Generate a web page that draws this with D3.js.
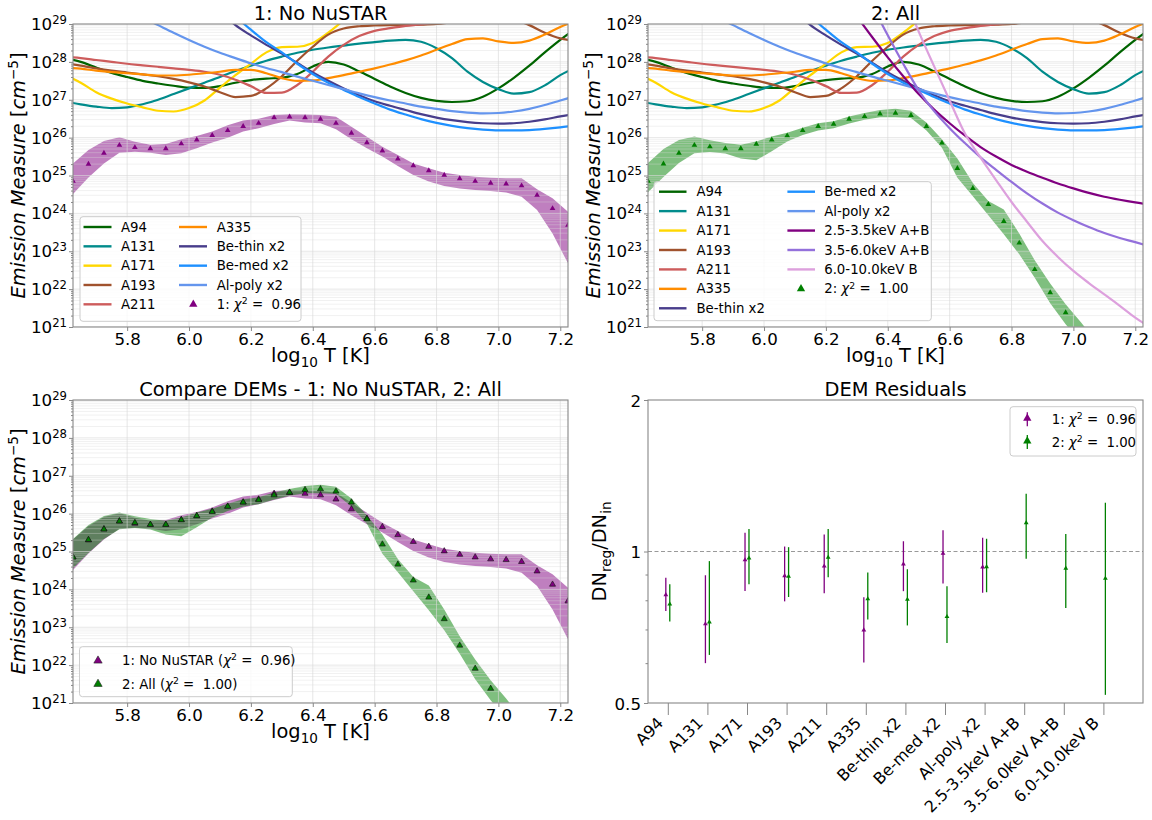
<!DOCTYPE html>
<html>
<head>
<meta charset="utf-8">
<script src="https://cdn.jsdelivr.net/npm/d3@7"></script>
<style>
  html,body{margin:0;padding:0;background:#fff;}
  svg{display:block;font-family:"DejaVu Sans",Verdana,sans-serif;}
  text{white-space:pre;}
</style>
</head>
<body>
<svg id="chart" width="1152" height="820"></svg>
<script>
// ================= DATA =================
// DEM temperature bins (log10 T)
const demT = [5.625,5.675,5.725,5.775,5.825,5.875,5.925,5.975,6.025,6.075,6.125,6.175,6.225,6.275,6.325,6.375,6.425,6.475,6.525,6.575,6.625,6.675,6.725,6.775,6.825,6.875,6.925,6.975,7.025,7.075,7.125,7.175,7.225];
// DEM 1: No NuSTAR  (log10 EM)
const dem1   = [24.85,25.30,25.59,25.80,25.74,25.71,25.71,25.84,25.94,26.06,26.19,26.30,26.38,26.53,26.55,26.53,26.49,26.38,26.12,25.87,25.65,25.44,25.26,25.13,25.01,24.92,24.85,24.80,24.78,24.73,24.48,24.13,23.69];
const dem1Hi = [25.32,25.67,25.91,26.01,25.89,25.81,25.83,25.96,26.04,26.16,26.33,26.45,26.50,26.60,26.62,26.61,26.60,26.55,26.29,26.02,25.76,25.54,25.32,25.19,25.07,25.01,24.97,24.94,24.93,24.93,24.64,24.40,24.04];
const dem1Lo = [24.51,24.95,25.32,25.60,25.63,25.60,25.54,25.59,25.72,25.87,26.00,26.16,26.25,26.36,26.45,26.40,26.38,26.22,25.96,25.72,25.50,25.25,25.01,24.84,24.72,24.66,24.62,24.59,24.55,24.44,24.09,23.47,22.68];
// DEM 2: All
const dem2   = [24.85,25.31,25.59,25.80,25.76,25.71,25.71,25.83,25.94,26.05,26.19,26.30,26.36,26.49,26.56,26.63,26.65,26.59,26.30,25.86,25.19,24.66,24.24,23.79,23.22,22.52,21.91,21.38,20.90,20.40,19.90,19.40,18.90];
const dem2Hi = [25.33,25.70,25.94,26.03,25.93,25.86,25.81,25.90,26.03,26.13,26.26,26.38,26.43,26.56,26.65,26.73,26.76,26.71,26.40,25.96,25.45,24.80,24.33,24.10,23.47,22.76,22.15,21.60,21.12,20.60,20.10,19.60,19.10];
const dem2Lo = [24.56,24.96,25.33,25.59,25.62,25.58,25.45,25.40,25.64,25.90,26.07,26.19,26.25,26.37,26.47,26.54,26.54,26.52,26.19,25.73,24.94,24.45,23.95,23.45,22.92,22.30,21.63,21.07,20.60,20.10,19.60,19.10,18.60];
const chi1 = "0.96", chi2 = "1.00";

// EM loci curves (log10 EM) sampled on curveT
const curveT = [5.60,5.65,5.70,5.75,5.80,5.85,5.90,5.95,6.00,6.05,6.10,6.15,6.20,6.25,6.30,6.35,6.40,6.45,6.50,6.55,6.60,6.65,6.70,6.75,6.80,6.85,6.90,6.95,7.00,7.05,7.10,7.15,7.20,7.25];
const N = null;
const emA94  = [28.1,28.0,27.85,27.71,27.6,27.5,27.43,27.37,27.32,27.31,27.36,27.45,27.52,27.56,27.58,27.68,27.88,28.0,27.93,27.75,27.55,27.35,27.18,27.05,26.97,26.94,26.96,27.08,27.3,27.58,27.9,28.25,28.58,28.88];
const emA131 = [26.95,26.88,26.82,26.78,26.8,26.88,27.0,27.15,27.3,27.45,27.6,27.76,27.9,28.03,28.14,28.24,28.32,28.38,28.43,28.48,28.52,28.56,28.58,28.53,28.36,28.1,27.74,27.47,27.28,27.16,27.2,27.38,27.65,27.85];
const emA171 = [27.65,27.45,27.2,27.03,26.9,26.8,26.71,26.69,26.78,26.98,27.32,27.65,27.95,28.25,28.39,28.4,28.5,28.77,29.1,29.45,29.8,N,N,N,N,N,N,N,N,N,N,N,N,N];
const emA193 = [27.97,27.9,27.83,27.77,27.72,27.67,27.62,27.55,27.46,27.35,27.2,27.07,27.1,27.3,27.62,28.03,28.4,28.72,28.88,28.94,28.96,28.97,28.97,28.98,29.0,29.05,29.12,29.18,29.2,29.12,28.97,28.77,28.62,28.55];
const emA211 = [28.13,28.1,28.05,28.0,27.95,27.91,27.87,27.83,27.79,27.74,27.66,27.53,27.36,27.18,27.19,27.39,27.74,28.14,28.45,28.68,28.82,28.89,28.95,28.99,29.05,29.1,29.15,29.2,29.25,29.3,29.35,29.4,29.4,29.4];
const emA335 = [27.85,27.82,27.77,27.73,27.7,27.67,27.64,27.64,27.66,27.7,27.74,27.79,27.79,27.7,27.57,27.5,27.51,27.57,27.65,27.74,27.83,27.93,28.04,28.17,28.32,28.47,28.6,28.62,28.54,28.5,28.56,28.72,28.92,29.08];
const emBeThin = [N,N,N,N,N,N,N,N,N,29.65,29.33,28.97,28.7,28.45,28.22,27.97,27.72,27.5,27.3,27.12,26.96,26.84,26.73,26.62,26.53,26.46,26.41,26.38,26.37,26.38,26.42,26.48,26.56,26.63];
const emBeMed  = [N,N,N,N,N,N,N,N,N,29.95,29.6,29.2,28.85,28.52,28.25,27.95,27.68,27.45,27.26,27.07,26.9,26.74,26.61,26.49,26.39,26.31,26.25,26.21,26.19,26.19,26.2,26.23,26.27,26.32];
const emAlPoly = [30.35,30.1,29.85,29.6,29.38,29.17,28.97,28.77,28.58,28.4,28.24,28.1,27.96,27.84,27.73,27.61,27.5,27.39,27.28,27.17,27.07,26.98,26.9,26.82,26.76,26.7,26.66,26.64,26.65,26.69,26.76,26.86,26.98,27.1];
const emNu25 = [N,N,N,N,N,N,N,N,N,N,N,N,30.3,29.75,29.2,28.65,28.12,27.62,27.15,26.74,26.38,26.05,25.75,25.5,25.28,25.1,24.94,24.79,24.66,24.54,24.44,24.36,24.29,24.23];
const emNu35 = [N,N,N,N,N,N,N,N,N,N,N,N,N,N,30.4,29.5,28.7,27.95,27.25,26.7,26.25,25.85,25.48,25.15,24.83,24.53,24.26,24.02,23.82,23.64,23.48,23.35,23.24,23.12];
const emNu60 = [N,N,N,N,N,N,N,N,N,N,N,N,N,N,N,N,N,29.8,28.8,27.88,26.98,26.1,25.47,24.88,24.3,23.78,23.27,22.85,22.48,22.16,21.86,21.56,21.25,20.98];

const chanNames  = ["A94","A131","A171","A193","A211","A335","Be-thin x2","Be-med x2","Al-poly x2","2.5-3.5keV A+B","3.5-6.0keV A+B","6.0-10.0keV B"];
const chanColors = ["#006400","#008b8b","#ffd700","#a0522d","#cd5c5c","#ff8c00","#483d8b","#1e90ff","#6495ed","#800080","#9370db","#dda0dd"];
const chanCurves = [emA94,emA131,emA171,emA193,emA211,emA335,emBeThin,emBeMed,emAlPoly,emNu25,emNu35,emNu60];

// residuals DN_reg/DN_in
const res1   = [0.820,0.718,0.962,0.895,0.935,0.698,0.944,0.991,0.931];
const res1Lo = [0.762,0.600,0.835,0.796,0.826,0.602,0.834,0.864,0.828];
const res1Hi = [0.887,0.897,1.089,1.023,1.081,0.811,1.048,1.102,1.065];
const res2   = [0.786,0.724,0.970,0.892,0.973,0.805,0.803,0.742,0.932,1.140,0.926,0.884];
const res2Lo = [0.726,0.623,0.861,0.812,0.889,0.733,0.713,0.658,0.830,0.967,0.772,0.519];
const res2Hi = [0.861,0.957,1.108,1.020,1.108,0.908,0.922,0.853,1.060,1.302,1.083,1.250];

const xTicks = [5.8,6.0,6.2,6.4,6.6,6.8,7.0,7.2];
const yExps  = [21,22,23,24,25,26,27,28,29];
const resTicks = [0.5,1,2];
const resMinor = [0.6,0.7,0.8,0.9];

// ================= DRAW =================
const svg = d3.select("#chart");
const defs = svg.append("defs");
const TICK_FS = 16.67, LAB_FS = 19.4, TITLE_FS = 19.4, LEG_FS = 13.3, ROT_FS = 16;
const SPINE = "#888";
const PURPLE = "#800080", GREEN = "#008000";

function rich(t, parts, fs) {
  let shift = 0;
  parts.forEach(p => {
    if (typeof p === "string") p = {t: p};
    const target = p.sup ? -0.37 * fs : (p.sub ? 0.25 * fs : 0);
    const ts = t.append("tspan").text(p.t).attr("dy", target - shift);
    shift = target;
    if (p.sup || p.sub) ts.attr("font-size", 0.7 * fs);
    if (p.i) ts.attr("font-style", "italic");
  });
  return t;
}

function styleAxis(a) {
  a.select(".domain").remove();
  a.attr("font-family", null).attr("font-size", null);
  a.selectAll("line").attr("stroke", SPINE);
  a.selectAll("text").attr("fill", "#000").attr("font-size", TICK_FS);
}

function triangle(size) { return d3.symbol(d3.symbolTriangle, size)(); }

function demPanel(P, cfg) {
  const g = svg.append("g");
  const x = d3.scaleLinear().domain([demT[0], demT[demT.length - 1]]).range([P.x0, P.x1]);
  const y = d3.scaleLog().domain([1e21, 1e29]).range([P.y1, P.y0]);
  const id = "clip" + cfg.id;
  defs.append("clipPath").attr("id", id).append("rect")
    .attr("x", P.x0).attr("y", P.y0).attr("width", P.x1 - P.x0).attr("height", P.y1 - P.y0);
  const plot = g.append("g").attr("clip-path", `url(#${id})`);

  // bands
  cfg.dems.forEach(dm => {
    const area = d3.area()
      .x((d, i) => x(demT[i]))
      .y0((d, i) => y(Math.pow(10, dm.lo[i])))
      .y1((d, i) => y(Math.pow(10, dm.hi[i])));
    plot.append("path").datum(demT).attr("d", area)
      .attr("fill", dm.color).attr("fill-opacity", 0.5);
  });

  // grid (on top of bands)
  const grid = plot.append("g");
  yExps.forEach(e => {
    for (let k = 2; k <= 9; k++) {
      const v = k * Math.pow(10, e);
      if (v >= 1e29) continue;
      grid.append("line").attr("x1", P.x0).attr("x2", P.x1)
        .attr("y1", y(v)).attr("y2", y(v))
        .attr("stroke", "#d8d8d8").attr("stroke-opacity", 0.45).attr("stroke-width", 0.8);
    }
    grid.append("line").attr("x1", P.x0).attr("x2", P.x1)
      .attr("y1", y(Math.pow(10, e))).attr("y2", y(Math.pow(10, e)))
      .attr("stroke", "#d8d8d8").attr("stroke-opacity", 0.7).attr("stroke-width", 0.9);
  });
  xTicks.forEach(t => {
    grid.append("line").attr("x1", x(t)).attr("x2", x(t)).attr("y1", P.y0).attr("y2", P.y1)
      .attr("stroke", "#d8d8d8").attr("stroke-opacity", 0.7).attr("stroke-width", 0.9);
  });

  // curves
  cfg.curves.forEach(c => {
    const line = d3.line().defined(d => d !== null)
      .x((d, i) => x(curveT[i])).y(d => y(Math.pow(10, d)))
      .curve(d3.curveMonotoneX);
    plot.append("path").datum(c.v).attr("d", line)
      .attr("fill", "none").attr("stroke", c.color).attr("stroke-width", 2.2);
  });

  // markers
  cfg.dems.forEach(dm => {
    plot.append("g").selectAll("path").data(dm.v).enter().append("path")
      .attr("d", triangle(cfg.edge ? 16 : 14))
      .attr("transform", (d, i) => `translate(${x(demT[i])},${y(Math.pow(10, d))})`)
      .attr("fill", dm.color)
      .attr("stroke", cfg.edge ? "#111" : "none").attr("stroke-width", 0.6);
  });

  // spines
  g.append("rect").attr("x", P.x0).attr("y", P.y0)
    .attr("width", P.x1 - P.x0).attr("height", P.y1 - P.y0)
    .attr("fill", "none").attr("stroke", SPINE).attr("stroke-width", 1.1);

  // x axis
  const xa = g.append("g").attr("transform", `translate(0,${P.y1})`)
    .call(d3.axisBottom(x).tickValues(xTicks).tickSize(4).tickPadding(2).tickFormat(d3.format(".1f")));
  styleAxis(xa);

  // y axis (major + minor)
  const majors = yExps.map(e => Math.pow(10, e));
  const minors = [];
  yExps.slice(0, -1).forEach(e => { for (let k = 2; k <= 9; k++) minors.push(k * Math.pow(10, e)); });
  const ya = g.append("g").attr("transform", `translate(${P.x0},0)`)
    .call(d3.axisLeft(y).tickValues(majors).tickSize(4).tickFormat(""));
  styleAxis(ya);
  const yam = g.append("g").attr("transform", `translate(${P.x0},0)`)
    .call(d3.axisLeft(y).tickValues(minors).tickSize(2).tickFormat(""));
  styleAxis(yam);
  yExps.forEach(e => {
    const t = g.append("text").attr("x", P.x0 - 6).attr("y", y(Math.pow(10, e)) + 6)
      .attr("text-anchor", "end").attr("font-size", TICK_FS);
    rich(t, ["10", {t: String(e), sup: true}], TICK_FS);
  });

  // labels
  const xl = g.append("text").attr("x", (P.x0 + P.x1) / 2).attr("y", P.y1 + 35)
    .attr("text-anchor", "middle").attr("font-size", LAB_FS);
  rich(xl, ["log", {t: "10", sub: true}, " T [K]"], LAB_FS);
  const yl = g.append("text")
    .attr("transform", `translate(${P.x0 - 48},${(P.y0 + P.y1) / 2}) rotate(-90)`)
    .attr("text-anchor", "middle").attr("font-size", LAB_FS);
  rich(yl, [{t: "Emission Measure ", i: true}, "[", {t: "cm", i: true}, {t: "\u22125", sup: true}, "]"], LAB_FS);
  g.append("text").attr("x", (P.x0 + P.x1) / 2).attr("y", P.y0 - 4)
    .attr("text-anchor", "middle").attr("font-size", TITLE_FS).text(cfg.title);
  return {x, y};
}

function legendBox(x, y, w, h) {
  svg.append("rect").attr("x", x).attr("y", y).attr("width", w).attr("height", h)
    .attr("rx", 3).attr("fill", "#fff").attr("fill-opacity", 0.8)
    .attr("stroke", "#cccccc").attr("stroke-width", 1);
}
function legLine(x1, x2, yy, color) {
  svg.append("line").attr("x1", x1).attr("x2", x2).attr("y1", yy).attr("y2", yy)
    .attr("stroke", color).attr("stroke-width", 2.4);
}
function legText(x, yy, parts) {
  const t = svg.append("text").attr("x", x).attr("y", yy + 4.6).attr("font-size", LEG_FS);
  rich(t, parts, LEG_FS);
}
function legMarker(x, yy, color, edge) {
  svg.append("path").attr("d", triangle(30)).attr("transform", `translate(${x},${yy})`)
    .attr("fill", color).attr("stroke", edge ? "#222" : "none").attr("stroke-width", 0.6);
}
const chiParts = (lab, val) => [lab, {t: "\u03c7", i: true}, {t: "2", sup: true}, " =  " + val];

// ---- Panel 1 ----
const P1 = {x0: 73, x1: 568, y0: 24, y1: 327};
demPanel(P1, {
  id: 1, title: "1: No NuSTAR",
  dems: [{v: dem1, lo: dem1Lo, hi: dem1Hi, color: PURPLE}],
  curves: chanCurves.slice(0, 9).map((v, i) => ({v, color: chanColors[i]}))
});
legendBox(80, 216.7, 221, 104.6);
for (let k = 0; k < 5; k++) {
  const yy = 227 + 19.33 * k;
  legLine(83.5, 111.5, yy, chanColors[k]);
  legText(121, yy, [chanNames[k]]);
}
for (let k = 0; k < 4; k++) {
  const yy = 227 + 19.33 * k;
  legLine(179, 207, yy, chanColors[5 + k]);
  legText(216.7, yy, [chanNames[5 + k]]);
}
legMarker(193.3, 227 + 19.33 * 4, PURPLE, false);
legText(216.7, 227 + 19.33 * 4, chiParts("1: ", chi1));

// ---- Panel 2 ----
const P2 = {x0: 648, x1: 1143, y0: 24, y1: 327};
demPanel(P2, {
  id: 2, title: "2: All",
  dems: [{v: dem2, lo: dem2Lo, hi: dem2Hi, color: GREEN}],
  curves: chanCurves.map((v, i) => ({v, color: chanColors[i]}))
});
legendBox(654, 181.7, 277.3, 139);
for (let k = 0; k < 7; k++) {
  const yy = 191.7 + 19.43 * k;
  legLine(659, 686.5, yy, chanColors[k]);
  legText(696.5, yy, [chanNames[k]]);
}
for (let k = 0; k < 5; k++) {
  const yy = 191.7 + 19.43 * k;
  legLine(787.4, 815, yy, chanColors[7 + k]);
  legText(824.2, yy, [chanNames[7 + k]]);
}
legMarker(801, 191.7 + 19.43 * 5, GREEN, false);
legText(824.2, 191.7 + 19.43 * 5, chiParts("2: ", chi2));

// ---- Panel 3 ----
const P3 = {x0: 73, x1: 568, y0: 400, y1: 703};
demPanel(P3, {
  id: 3, title: "Compare DEMs - 1: No NuSTAR, 2: All", edge: true,
  dems: [{v: dem1, lo: dem1Lo, hi: dem1Hi, color: PURPLE},
         {v: dem2, lo: dem2Lo, hi: dem2Hi, color: GREEN}],
  curves: []
});
legendBox(79.5, 646.7, 212.8, 50);
legMarker(98, 660.7, PURPLE, true);
legText(122, 660.7, ["1: No NuSTAR (", {t: "\u03c7", i: true}, {t: "2", sup: true}, " =  " + chi1 + ")"]);
legMarker(98, 684, GREEN, true);
legText(122, 684, ["2: All (", {t: "\u03c7", i: true}, {t: "2", sup: true}, " =  " + chi2 + ")"]);

// ---- Panel 4 ----
(function () {
  const P = {x0: 648, x1: 1143, y0: 400, y1: 703};
  const g = svg.append("g");
  const x = d3.scaleLinear().domain([-0.5, 12]).range([P.x0, P.x1]);
  const y = d3.scaleLog().domain([0.5, 2]).range([P.y1, P.y0]);
  g.append("line").attr("x1", P.x0).attr("x2", P.x1).attr("y1", y(1)).attr("y2", y(1))
    .attr("stroke", "#999").attr("stroke-width", 1.2).attr("stroke-dasharray", "4,2.5");
  const series = [
    {v: res1, lo: res1Lo, hi: res1Hi, color: PURPLE, off: -0.05},
    {v: res2, lo: res2Lo, hi: res2Hi, color: GREEN, off: 0.05}
  ];
  series.forEach(s => {
    const sg = g.append("g");
    sg.selectAll("line").data(s.v).enter().append("line")
      .attr("x1", (d, i) => x(i + s.off)).attr("x2", (d, i) => x(i + s.off))
      .attr("y1", (d, i) => y(s.lo[i])).attr("y2", (d, i) => y(s.hi[i]))
      .attr("stroke", s.color).attr("stroke-width", 1.3);
    sg.selectAll("path").data(s.v).enter().append("path")
      .attr("d", triangle(10))
      .attr("transform", (d, i) => `translate(${x(i + s.off)},${y(d)})`)
      .attr("fill", s.color);
  });
  g.append("rect").attr("x", P.x0).attr("y", P.y0)
    .attr("width", P.x1 - P.x0).attr("height", P.y1 - P.y0)
    .attr("fill", "none").attr("stroke", SPINE).attr("stroke-width", 1.1);
  const xa = g.append("g").attr("transform", `translate(0,${P.y1})`)
    .call(d3.axisBottom(x).tickValues(d3.range(chanNames.length)).tickSize(12).tickFormat(d => chanNames[d]));
  styleAxis(xa);
  xa.selectAll("text").attr("x", null).attr("y", null).attr("dy", null)
    .attr("font-size", ROT_FS)
    .attr("text-anchor", "end").attr("transform", "translate(-4,21) rotate(-45)");
  const ya = g.append("g").attr("transform", `translate(${P.x0},0)`)
    .call(d3.axisLeft(y).tickValues(resTicks).tickSize(4).tickPadding(3).tickFormat(d => String(d)));
  styleAxis(ya);
  ya.selectAll("text").attr("dy", "0.36em");
  const yam = g.append("g").attr("transform", `translate(${P.x0},0)`)
    .call(d3.axisLeft(y).tickValues(resMinor).tickSize(2.5).tickFormat(""));
  styleAxis(yam);
  const yl = g.append("text")
    .attr("transform", `translate(${P.x0 - 42},${(P.y0 + P.y1) / 2}) rotate(-90)`)
    .attr("text-anchor", "middle").attr("font-size", LAB_FS);
  rich(yl, ["DN", {t: "reg", sub: true}, "/DN", {t: "in", sub: true}], LAB_FS);
  g.append("text").attr("x", (P.x0 + P.x1) / 2).attr("y", P.y0 - 4)
    .attr("text-anchor", "middle").attr("font-size", TITLE_FS).text("DEM Residuals");

  // legend
  legendBox(1010, 406.7, 126, 49.3);
  [[419.3, PURPLE, chiParts("1: ", chi1)], [442, GREEN, chiParts("2: ", chi2)]].forEach(r => {
    svg.append("line").attr("x1", 1027.3).attr("x2", 1027.3).attr("y1", r[0] - 7).attr("y2", r[0] + 7)
      .attr("stroke", r[1]).attr("stroke-width", 1.3);
    legMarker(1027.3, r[0] - 1, r[1], false);
    legText(1051.7, r[0], r[2]);
  });
})();
</script>
</body>
</html>
